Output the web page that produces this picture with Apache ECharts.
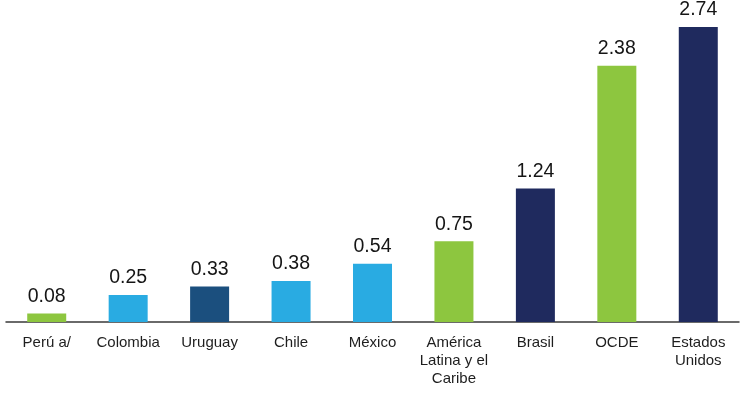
<!DOCTYPE html>
<html><head><meta charset="utf-8">
<script src="https://cdn.jsdelivr.net/npm/echarts@6/dist/echarts.min.js"></script>
<style>html,body{margin:0;padding:0;background:#fff}#c{width:747px;height:393px}</style>
</head><body><div id="c"></div>
<script>
const categories = ['Perú a/', 'Colombia', 'Uruguay', 'Chile', 'México', 'América\nLatina y el\nCaribe', 'Brasil', 'OCDE', 'Estados\nUnidos'];
const values = [0.08, 0.25, 0.33, 0.38, 0.54, 0.75, 1.24, 2.38, 2.74];
const colors = ['#8dc63f', '#29abe2', '#1b4f7e', '#29abe2', '#29abe2', '#8dc63f', '#1f2a5e', '#8dc63f', '#1f2a5e'];

const chart = echarts.init(document.getElementById('c'));
chart.setOption({
  animation: false,
  grid: { left: 6, right: 8, top: 27, bottom: 71, containLabel: false },
  xAxis: {
    type: 'category', data: categories,
    axisLine: { lineStyle: { color: '#3a3a3a', width: 1.5 } },
    axisTick: { show: false },
    axisLabel: { color: '#1e1e1e', fontFamily: 'Liberation Sans, Arial, sans-serif', fontSize: 15, lineHeight: 18, margin: 12, interval: 0 }
  },
  yAxis: { type: 'value', min: 0, max: 2.74, show: false, splitLine: { show: false } },
  series: [{
    type: 'bar', barWidth: 39,
    data: values.map((v, i) => ({ value: v, itemStyle: { color: colors[i] } })),
    label: { show: true, position: 'top', distance: 7, color: '#151515', fontFamily: 'Liberation Sans, Arial, sans-serif', fontSize: 19.5, formatter: p => p.value.toFixed(2) }
  }]
});
</script></body></html>
